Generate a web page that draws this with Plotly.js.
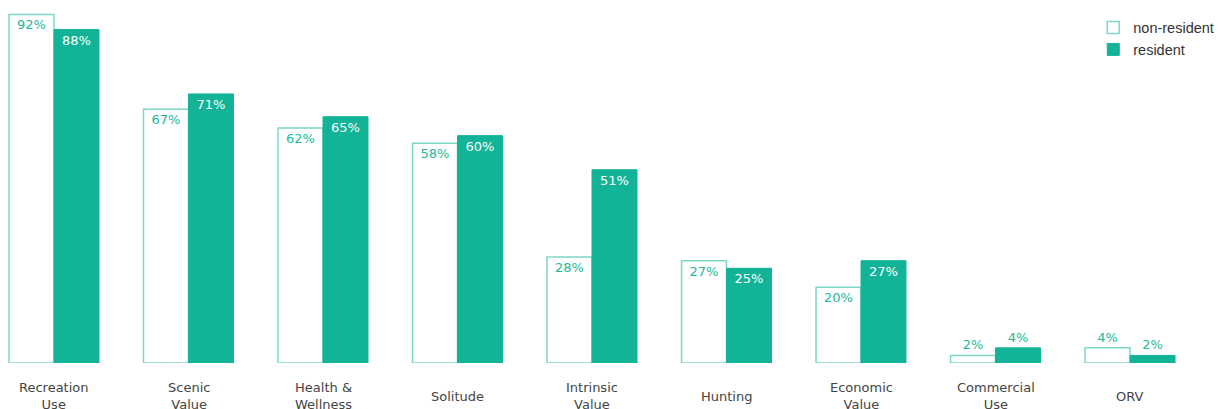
<!DOCTYPE html>
<html>
<head>
<meta charset="utf-8">
<script src="https://cdn.plot.ly/plotly-3.0.1.min.js"></script>
<style>html,body{margin:0;padding:0;background:#fff;}#chart{width:1227px;height:409px;}</style>
</head>
<body>
<div id="chart"></div>
<script>
const categories = ["Recreation<br>Use", "Scenic<br>Value", "Health &<br>Wellness", "Solitude", "Intrinsic<br>Value", "Hunting", "Economic<br>Value", "Commercial<br>Use", "ORV"];
const nonResident = [92, 67, 62, 58, 28, 27, 20, 2, 4];
const resident = [88, 71, 65, 60, 51, 25, 27, 4, 2];

const teal = "#12b396";
const lightTeal = "#7dd8c6";
const textTeal = "#22b99a";

function pos(vals) { return vals.map(v => v >= 10 ? "inside" : "outside"); }
function labels(vals) { return vals.map(v => v + "%"); }

const traces = [
  {
    type: "bar", name: "non-resident", x: categories, y: nonResident,
    marker: {color: "#ffffff", line: {color: lightTeal, width: 1.5}},
    text: labels(nonResident), textposition: pos(nonResident),
    insidetextanchor: "end", constraintext: "none", cliponaxis: false,
    textfont: {family: "DejaVu Sans, Verdana, sans-serif", size: 13, color: textTeal},
    hoverinfo: "skip"
  },
  {
    type: "bar", name: "resident", x: categories, y: resident,
    marker: {color: teal, line: {color: teal, width: 1}},
    text: labels(resident), textposition: pos(resident),
    insidetextanchor: "end", constraintext: "none", cliponaxis: false,
    insidetextfont: {family: "DejaVu Sans, Verdana, sans-serif", size: 13, color: "#ffffff"},
    outsidetextfont: {family: "DejaVu Sans, Verdana, sans-serif", size: 13, color: textTeal},
    hoverinfo: "skip"
  }
];

const annotations = categories.map(c => ({
  x: c, y: 0, xref: "x", yref: "y", yshift: -33, yanchor: "middle", xanchor: "center",
  text: c, showarrow: false, align: "center",
  font: {family: "DejaVu Sans, Verdana, sans-serif", size: 13, color: "#444"}
}));

const layout = {
  width: 1227, height: 409,
  margin: {l: 0, r: 0, t: 0, b: 46, pad: 0},
  paper_bgcolor: "#fff", plot_bgcolor: "#fff",
  barmode: "group", bargap: 0.331, bargroupgap: 0,
  xaxis: {type: "category", range: [-0.4015, 8.721], showticklabels: false, showgrid: false, zeroline: false, showline: false, ticks: ""},
  yaxis: {range: [0, 95.8], visible: false, showgrid: false, zeroline: false},
  showlegend: true,
  legend: {x: 0.891, y: 0.968, xanchor: "left", yanchor: "top", bgcolor: "rgba(0,0,0,0)",
    font: {family: "Liberation Sans, Arial, sans-serif", size: 14.5, color: "#333"}, tracegroupgap: 0},
  annotations: annotations
};

Plotly.newPlot("chart", traces, layout, {displayModeBar: false, staticPlot: true});
</script>
</body>
</html>
